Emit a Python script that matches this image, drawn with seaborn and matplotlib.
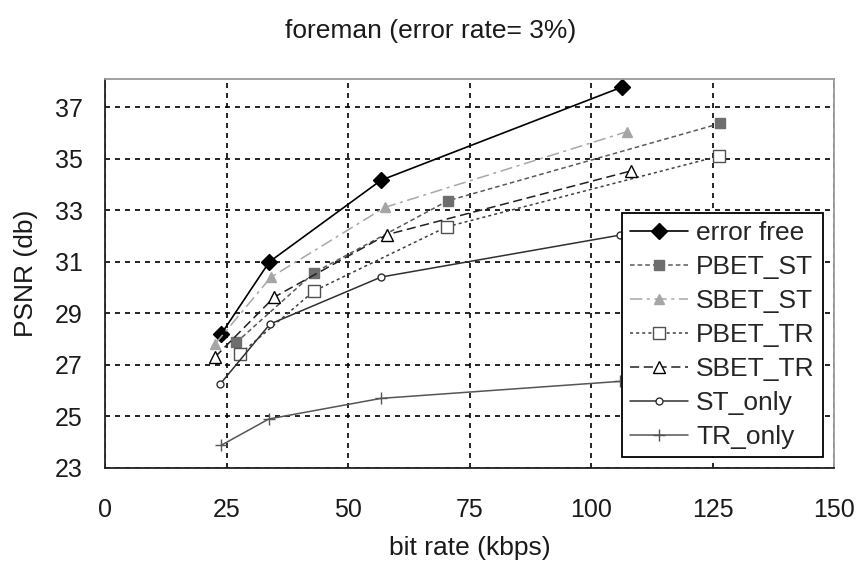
import matplotlib
matplotlib.use("Agg")
import matplotlib.pyplot as plt
import seaborn as sns
import pandas as pd

sns.set_style("white")
plt.rcParams['font.family'] = ['Liberation Sans', 'DejaVu Sans']

series_names = ["error free", "PBET_ST", "SBET_ST", "PBET_TR", "SBET_TR", "ST_only", "TR_only"]
x_error_free = [23.9, 33.8, 56.8, 106.4]
y_error_free = [28.2, 31.0, 34.17, 37.79]
x_pbet_st = [27.0, 43.0, 70.5, 126.5]
y_pbet_st = [27.87, 30.58, 33.37, 36.37]
x_sbet_st = [22.6, 34.1, 57.5, 107.3]
y_sbet_st = [27.8, 30.4, 33.11, 36.05]
x_pbet_tr = [27.8, 43.0, 70.3, 126.2]
y_pbet_tr = [27.43, 29.87, 32.36, 35.10]
x_sbet_tr = [22.6, 34.8, 57.9, 108.2]
y_sbet_tr = [27.3, 29.63, 32.05, 34.53]
x_st_only = [23.7, 33.9, 56.8, 106.0]
y_st_only = [26.26, 28.58, 30.41, 32.04]
x_tr_only = [23.9, 33.7, 56.8, 106.0]
y_tr_only = [23.88, 24.9, 25.7, 26.36]

xs = [x_error_free, x_pbet_st, x_sbet_st, x_pbet_tr, x_sbet_tr, x_st_only, x_tr_only]
ys = [y_error_free, y_pbet_st, y_sbet_st, y_pbet_tr, y_sbet_tr, y_st_only, y_tr_only]

x_ticks = [0, 25, 50, 75, 100, 125, 150]
y_ticks = [23, 25, 27, 29, 31, 33, 35, 37]

styles = [
    dict(color="black", lw=1.2, ls="-", marker="D", ms=8, mfc="black", mec="black"),
    dict(color="#5a5a5a", lw=1.1, ls=(0, (3, 2)), marker="s", ms=6.5, mfc="#6e6e6e", mec="#6e6e6e"),
    dict(color="#a8a8a8", lw=1.1, ls=(0, (8, 3, 2, 3)), marker="^", ms=7.5, mfc="#a5a5a5", mec="#a5a5a5"),
    dict(color="#404040", lw=1.1, ls=(0, (2, 2)), marker="s", ms=8, mfc="white", mec="#505050"),
    dict(color="#202020", lw=1.1, ls=(0, (6, 3)), marker="^", ms=9, mfc="white", mec="black"),
    dict(color="#303030", lw=1.1, ls="-", marker="o", ms=5, mfc="white", mec="#303030"),
    dict(color="#555555", lw=1.1, ls="-", marker="+", ms=9, mfc="#555555", mec="#555555"),
]

fig = plt.figure(figsize=(8.61, 5.72), dpi=100)
ax = fig.add_axes([0.122, 0.182, 0.847, 0.680])

for name, xv, yv, st in zip(series_names, xs, ys, styles):
    df = pd.DataFrame({"x": xv, "y": yv})
    sns.lineplot(data=df, x="x", y="y", ax=ax, label=name, sort=False,
                 color=st["color"], linewidth=st["lw"], linestyle=st["ls"],
                 marker=st["marker"], markersize=st["ms"],
                 markerfacecolor=st["mfc"], markeredgecolor=st["mec"],
                 markeredgewidth=1.0)

ax.set_xlim(0, 150)
ax.set_ylim(23, 38.1)
ax.set_xticks(x_ticks)
ax.set_yticks(y_ticks)
ax.set_xticklabels([str(v) for v in x_ticks])
ax.set_yticklabels([str(v) for v in y_ticks])
ax.tick_params(axis="both", length=0, labelsize=18, labelcolor="#1a1a1a")
ax.tick_params(axis="x", pad=22)
ax.tick_params(axis="y", pad=16)
ax.grid(True, color="black", linestyle=(0, (3, 3)), linewidth=1.2)
ax.set_axisbelow(True)

for side in ["left", "bottom"]:
    ax.spines[side].set_color("#222222")
    ax.spines[side].set_linewidth(1.3)
for side in ["top", "right"]:
    ax.spines[side].set_color("#9a9a9a")
    ax.spines[side].set_linewidth(1.3)

ax.set_xlabel("bit rate (kbps)", fontsize=19, color="#1a1a1a", labelpad=10)
ax.set_ylabel("PSNR (db)", fontsize=19, color="#1a1a1a", labelpad=12)
fig.text(0.5, 0.945, "foreman (error rate= 3%)", ha="center", va="center",
         fontsize=19, color="#1a1a1a")

leg = ax.legend(loc="lower right", bbox_to_anchor=(0.984, 0.028), fontsize=19,
                frameon=True, fancybox=False, framealpha=1, edgecolor="black",
                handlelength=2.2, labelspacing=0.38, borderpad=0.3,
                handletextpad=0.3, borderaxespad=0)
leg.get_frame().set_linewidth(1.3)

fig.savefig("out.png", dpi=100, facecolor="white")
